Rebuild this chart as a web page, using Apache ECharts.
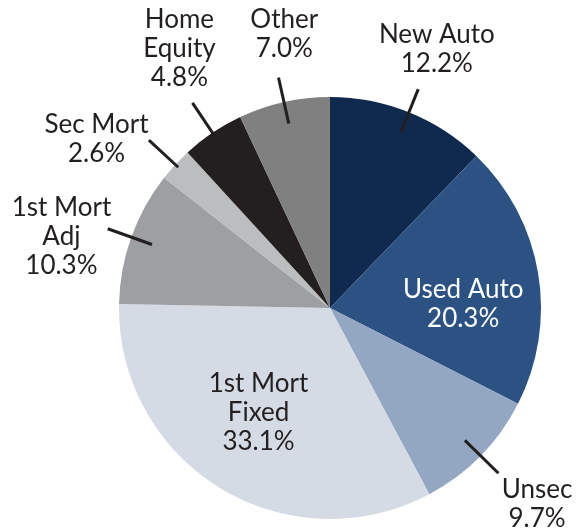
<!DOCTYPE html>
<html>
<head>
<meta charset="utf-8">
<script src="https://cdn.jsdelivr.net/npm/echarts@6/dist/echarts.min.js"></script>
<style>
  html, body { margin: 0; padding: 0; background: #fff; }
  #chart { width: 577px; height: 532px; }
</style>
</head>
<body>
<div id="chart"></div>
<script>
// loan mix, clockwise from 12 o'clock
const categories = ['New Auto', 'Used Auto', 'Unsec', '1st Mort Fixed', '1st Mort Adj', 'Sec Mort', 'Home Equity', 'Other'];
const labelNames = ['New Auto', 'Used Auto', 'Unsec', '1st Mort\nFixed', '1st Mort\nAdj', 'Sec Mort', 'Home\nEquity', 'Other'];
const values = [12.2, 20.3, 9.7, 33.1, 10.3, 2.6, 4.8, 7.0];
const colors = ['#0f2a4e', '#2c5183', '#94a7c2', '#d5dbe5', '#9e9fa2', '#bcbdbf', '#231f20', '#808080'];
const insideLabels = ['Used Auto', '1st Mort Fixed'];
const shortLeaders = ['Sec Mort', 'Home Equity'];

const center = [330, 308];
const fontFamily = 'Lato, "Open Sans", sans-serif';
// nudges of the text labels from where the pie puts them
const labelShift = [[1, 4], [2, 18], [5, -2], [-2, -9], [-2, 24], [-26, 24], [7, -24], [16, 2]];

const baseData = categories.map((name, i) => ({ name, value: values[i] }));

function labelText(params) {
    return labelNames[params.dataIndex] + '\n' + values[params.dataIndex].toFixed(1) + '%';
}

function shiftLabel(params) {
    const s = labelShift[params.dataIndex];
    return { dx: s[0], dy: s[1] };
}

function leaderSeries(radius, length, names) {
    return {
        type: 'pie',
        center: center,
        radius: [0, radius],
        startAngle: 90,
        silent: true,
        z: 5,
        avoidLabelOverlap: false,
        itemStyle: { color: 'transparent' },
        label: {
            show: true,
            position: 'outside',
            formatter: ' ',
            fontSize: 1,
            color: 'transparent'
        },
        labelLine: {
            show: true,
            length: length,
            length2: 0,
            lineStyle: { color: '#231f20', width: 3 }
        },
        data: baseData.map(d => ({
            ...d,
            label: { show: names.includes(d.name) },
            labelLine: { show: names.includes(d.name) }
        }))
    };
}

const longLeaders = categories.filter(c => !insideLabels.includes(c) && !shortLeaders.includes(c));

const chart = echarts.init(document.getElementById('chart'));
const option = {
    animation: false,
    series: [
        {
            // the slices
            type: 'pie',
            center: center,
            radius: [0, 211],
            startAngle: 90,
            silent: true,
            z: 2,
            label: { show: false },
            labelLine: { show: false },
            data: baseData.map((d, i) => ({ ...d, itemStyle: { color: colors[i], borderWidth: 0 } }))
        },
        leaderSeries(189, 47, longLeaders),
        leaderSeries(207, 40, shortLeaders),
        {
            // outer texts
            type: 'pie',
            center: center,
            radius: [212, 348],
            startAngle: 90,
            silent: true,
            z: 6,
            avoidLabelOverlap: false,
            itemStyle: { color: 'transparent' },
            label: {
                show: true,
                position: 'inside',
                formatter: labelText,
                fontFamily: fontFamily,
                fontSize: 26,
                lineHeight: 29,
                color: '#231f20',
                align: 'center'
            },
            labelLine: { show: false },
            labelLayout: shiftLabel,
            data: baseData.map(d => ({
                ...d,
                label: { show: !insideLabels.includes(d.name) }
            }))
        },
        {
            // texts inside the big slices
            type: 'pie',
            center: center,
            radius: [0, 260],
            startAngle: 90,
            silent: true,
            z: 6,
            avoidLabelOverlap: false,
            itemStyle: { color: 'transparent' },
            label: {
                show: true,
                position: 'inside',
                formatter: labelText,
                fontFamily: fontFamily,
                fontSize: 26,
                lineHeight: 29,
                align: 'center'
            },
            labelLine: { show: false },
            labelLayout: shiftLabel,
            data: baseData.map(d => ({
                ...d,
                label: {
                    show: insideLabels.includes(d.name),
                    color: d.name === 'Used Auto' ? '#ffffff' : '#231f20'
                }
            }))
        }
    ]
};
chart.setOption(option);
</script>
</body>
</html>
